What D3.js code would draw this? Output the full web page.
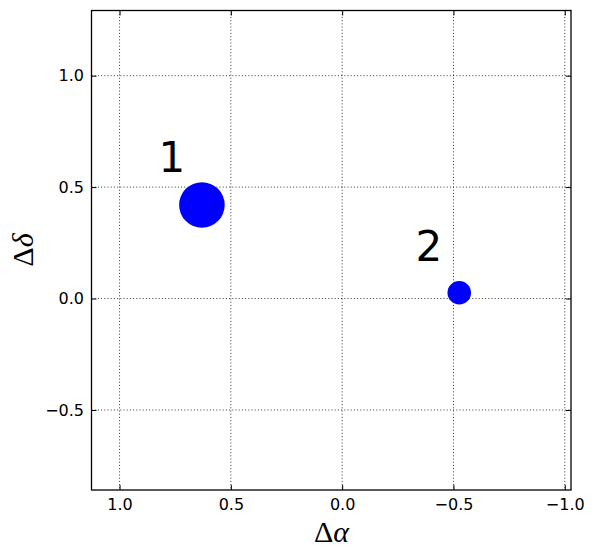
<!DOCTYPE html>
<html><head><meta charset="utf-8">
<script src="https://cdn.jsdelivr.net/npm/d3@7"></script>
<style>body{margin:0;background:#fff}</style>
</head><body>
<svg id="c" width="594" height="558"></svg>
<script>
const labels = ["1", "2"];
const xs = [0.630, -0.526];
const ys = [0.420, 0.026];
const sizes = [22.8, 11.8];
const labelX = [0.825, -0.33];
const labelY = [0.567, 0.167];
const xTicks = [1.0, 0.5, 0.0, -0.5, -1.0];
const yTicks = [-0.5, 0.0, 0.5, 1.0];

const svg = d3.select("#c");
const L = 91.5, R = 571, T = 10.5, B = 490;
const x = d3.scaleLinear().domain([1.126, -1.028]).range([L, R]);
const y = d3.scaleLinear().domain([-0.859, 1.2925]).range([B, T]);
const fmt = d => (d < 0 ? "\u2212" : "") + Math.abs(d).toFixed(1);

const g = svg.append("g");
// grid
g.selectAll(".gx").data(xTicks).enter().append("line")
  .attr("x1", d => x(d)).attr("x2", d => x(d)).attr("y1", T).attr("y2", B)
  .attr("stroke", "#000").attr("stroke-width", 0.8).attr("stroke-dasharray", "1,2.2");
g.selectAll(".gy").data(yTicks).enter().append("line")
  .attr("y1", d => y(d)).attr("y2", d => y(d)).attr("x1", L).attr("x2", R)
  .attr("stroke", "#000").attr("stroke-width", 0.8).attr("stroke-dasharray", "1,2.2");

// axes (ticks inward)
const ax = (gen, tx, ty) => svg.append("g").attr("transform", `translate(${tx},${ty})`).call(gen)
  .attr("font-size", 16).attr("font-family", "DejaVu Sans")
  .call(s => s.select(".domain").remove())
  .call(s => s.selectAll("text").attr("font-family", "DejaVu Sans").attr("font-size", 16).attr("fill", "#000"))
  .call(s => s.selectAll("line").attr("stroke", "#000").attr("stroke-width", 1));
ax(d3.axisBottom(x).tickValues(xTicks).tickFormat(fmt).tickSizeInner(-5).tickPadding(8.6), 0, B);
ax(d3.axisTop(x).tickValues(xTicks).tickFormat("").tickSizeInner(-5), 0, T);
ax(d3.axisLeft(y).tickValues(yTicks).tickFormat(fmt).tickSizeInner(-5).tickPadding(7.5), L, 0);
ax(d3.axisRight(y).tickValues(yTicks).tickFormat("").tickSizeInner(-5), R, 0);

svg.append("rect").attr("x", L).attr("y", T).attr("width", R - L).attr("height", B - T)
  .attr("fill", "none").attr("stroke", "#000").attr("stroke-width", 1.3);

// points
svg.selectAll(".pt").data(xs).enter().append("circle")
  .attr("cx", (d, i) => x(d)).attr("cy", (d, i) => y(ys[i])).attr("r", (d, i) => sizes[i])
  .attr("fill", "#0000ff");
svg.selectAll(".lb").data(labels).enter().append("text")
  .attr("x", (d, i) => x(labelX[i])).attr("y", (d, i) => y(labelY[i]))
  .attr("font-family", "DejaVu Sans").attr("font-size", 42).attr("fill", "#000")
  .text(d => d);

// axis labels
const xl = svg.append("text").attr("x", 331.5).attr("y", 542).attr("text-anchor", "middle")
  .attr("font-family", "Liberation Serif").attr("font-size", 30);
xl.append("tspan").text("\u0394");
xl.append("tspan").attr("font-style", "italic").text("\u03B1");
const yl = svg.append("text").attr("transform", "translate(33,250) rotate(-90)").attr("text-anchor", "middle")
  .attr("font-family", "Liberation Serif").attr("font-size", 30);
yl.append("tspan").text("\u0394");
yl.append("tspan").attr("font-style", "italic").text("\u03B4");
</script>
</body></html>
